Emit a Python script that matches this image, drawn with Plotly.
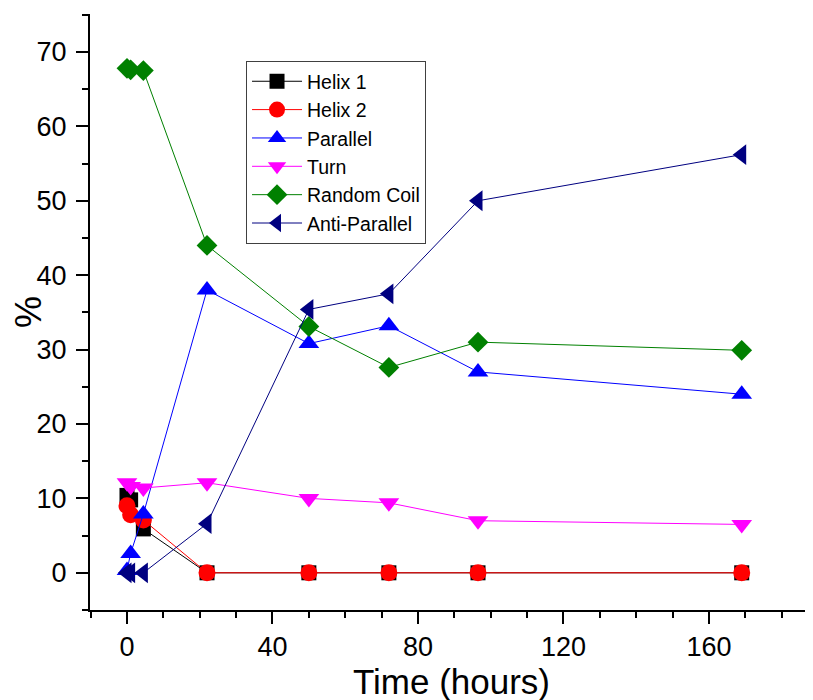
import plotly.graph_objects as go

time_h = [0, 1, 4.5, 22, 50, 72, 96.5, 169]

helix1 = [10.4, 9.8, 5.9, 0, 0, 0, 0, 0]
helix2 = [9.0, 7.8, 7.1, 0, 0, 0, 0, 0]
parallel = [0.3, 2.6, 7.9, 38.0, 30.8, 33.2, 27.0, 24.0]
turn = [12.1, 11.6, 11.4, 12.1, 10.0, 9.4, 7.0, 6.5]
random_coil = [67.8, 67.6, 67.5, 44.0, 33.1, 27.6, 31.0, 29.9]
anti_parallel = [0, 0, 0, 6.6, 35.4, 37.5, 50.0, 56.2]

x_ticks = [0, 40, 80, 120, 160]
y_ticks = [0, 10, 20, 30, 40, 50, 60, 70]

series = [
    ("Helix 1", helix1, "#000000", "square", 15),
    ("Helix 2", helix2, "#FF0000", "circle", 17),
    ("Parallel", parallel, "#0000FF", "triangle-up", 18),
    ("Turn", turn, "#FF00FF", "triangle-down", 18),
    ("Random Coil", random_coil, "#008000", "diamond", 16),
    ("Anti-Parallel", anti_parallel, "#000080", "triangle-left", 18),
]

fig = go.Figure()
for name, vals, color, sym, size in series:
    fig.add_trace(go.Scatter(
        x=time_h, y=vals, name=name, mode="lines+markers",
        line=dict(color=color, width=1),
        marker=dict(symbol=sym, size=size, color=color, line=dict(width=0)),
    ))

font_family = "Liberation Sans, Arial, sans-serif"

fig.update_layout(
    width=813, height=700,
    margin=dict(l=82, r=8, t=6, b=98, autoexpand=False),
    paper_bgcolor="white", plot_bgcolor="white",
    font=dict(family=font_family, color="black"),
    showlegend=True,
    legend=dict(
        x=0.2158, y=0.921, xanchor="left", yanchor="top",
        bgcolor="white", bordercolor="#404040", borderwidth=1,
        font=dict(size=19.5, family=font_family, color="black"),
        itemwidth=50, tracegroupgap=0,
    ),
    xaxis=dict(
        automargin=False,
        range=[-10.17, 188.6],
        tickmode="array", tickvals=x_ticks, ticktext=[str(v) for v in x_ticks],
        ticks="outside", ticklen=12, tickwidth=2, tickcolor="black",
        minor=dict(ticks="outside", ticklen=6, tickwidth=2, dtick=10, tick0=0, tickcolor="black"),
        showline=True, linewidth=2, linecolor="black",
        showgrid=False, zeroline=False,
        tickfont=dict(size=27, family=font_family),
        title=dict(text="Time (hours)", font=dict(size=35, family=font_family), standoff=0),
    ),
    yaxis=dict(
        automargin=False,
        range=[-5, 75.1],
        tickmode="array", tickvals=y_ticks, ticktext=[str(v) for v in y_ticks],
        ticks="outside", ticklen=12, tickwidth=2, tickcolor="black",
        ticklabelstandoff=4,
        minor=dict(ticks="outside", ticklen=6, tickwidth=2, dtick=5, tick0=0, tickcolor="black"),
        showline=True, linewidth=2, linecolor="black",
        showgrid=False, zeroline=False,
        tickfont=dict(size=27, family=font_family),
        title=dict(text="%", font=dict(size=36, family=font_family), standoff=7),
    ),
)

fig.write_html("out.html")
